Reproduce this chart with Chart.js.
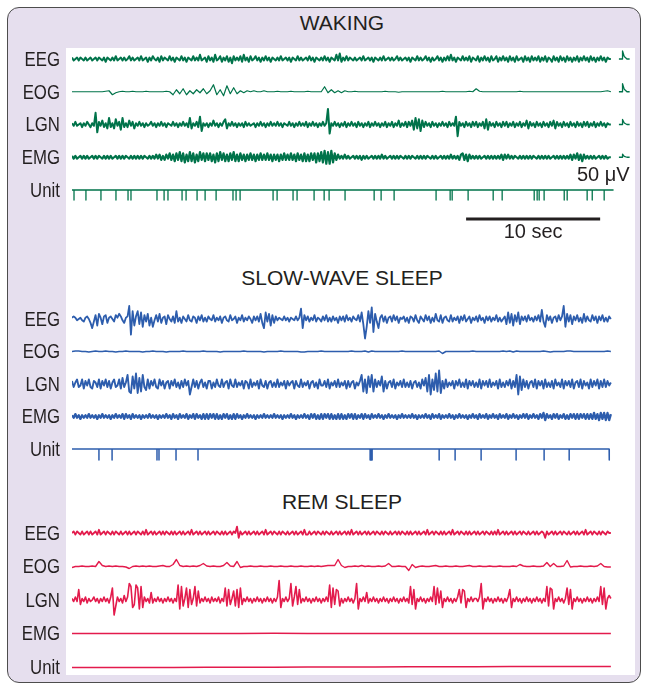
<!DOCTYPE html>
<html lang="en">
<head>
<meta charset="UTF-8">
<title>Waking, slow-wave sleep and REM sleep recordings</title>
<style>
    body {
        margin: 0;
        width: 645px;
        height: 686px;
        position: relative;
        overflow: hidden;
        background: #ffffff;
        font-family: 'Liberation Sans', Arial, sans-serif;
        color: #231f20;
    }
    .frame {
        position: absolute;
        left: 7px;
        top: 7px;
        width: 634px;
        height: 676px;
        box-sizing: border-box;
        border: 1.5px solid #4d4d4d;
        border-radius: 12px;
        background: #e6dfee;
    }
    .sheet {
        position: absolute;
        left: 66px;
        top: 48px;
        width: 569px;
        height: 627px;
        background: #ffffff;
    }
    .stage {
        position: absolute;
        left: 0;
        width: 684px;
        text-align: center;
        font-size: 21px;
        line-height: 24px;
    }
    .panel {
        position: absolute;
        left: 0;
        width: 645px;
    }
</style>
<script src="https://cdn.jsdelivr.net/npm/chart.js"></script>
</head>
<body>
<div class="frame"></div>
<div class="sheet"></div>
<div class="stage" style="top: 11px;">WAKING</div>
<div class="stage" style="top: 266px;">SLOW-WAVE SLEEP</div>
<div class="stage" style="top: 490px;">REM SLEEP</div>
<div class="panel" style="top: 40px; height: 205px;"><canvas id="wakeChart"></canvas></div>
<div class="panel" style="top: 295px; height: 180px;"><canvas id="swsChart"></canvas></div>
<div class="panel" style="top: 512px; height: 162px;"><canvas id="remChart"></canvas></div>

<script>
// channel names (row labels)
const channels = ['EEG', 'EOG', 'LGN', 'EMG', 'Unit'];

// every trace runs over 0..40.2 s; values in relative units
const traceEnd = 40.2;

// ---- WAKING ----
const wakeEEG = [
    1,-1,0,1,-1,1,0,-1,1,-1, 0,1,-1,0,1,-1,1,0,-1,1, -2,1,0,-1,1,-1,2,-1,0,1, -1,1,-1,0,2,-1,1,-1,0,1,
    -1,2,-1,0,1,-2,1,-1,2,0, -1,1,-2,2,-1,1,0,-1,2,-1, 1,-2,1,0,-1,2,-1,1,-2,1, 0,-1,2,-1,1,-1,3,-1,0,1,
    -2,2,-1,1,-2,3,-1,0,2,-2, 1,-1,2,-2,1,-3,2,-1,1,-1, 2,-2,3,-1,1,-2,2,-1,0,2, -1,1,-2,1,-1,2,-1,1,-2,1,
    0,-1,1,-1,2,-1,0,1,-1,1, -2,1,0,-1,2,-1,1,-1,0,1, -1,2,-1,1,-2,1,0,-1,1,-1, 2,-1,1,-2,1,0,-1,3,-1,4,
    -2,1,-1,2,-1,1,0,-1,1,-1, 0,1,-1,2,-1,0,1,-1,1,-2, 1,0,-1,1,-1,2,-1,0,1,-1, 1,-1,0,2,-1,1,-1,0,1,-1,
    1,-2,1,0,-1,2,-1,1,-1,0, 2,-1,1,-2,1,-1,0,2,-1,1, -2,1,-1,2,-1,3,-1,1,-2,1, 0,-1,2,-1,1,-1,2,-2,1,0,
    -1,2,-2,1,-1,2,-1,1,-2,2, -1,0,2,-2,1,-1,2,-1,1,-2, 2,-1,1,-2,2,-1,0,1,-2,2, -1,1,-2,2,-1,1,-1,2,-2,1,
    -1,2,-2,1,0,-2,2,-1,1,-2, 2,-1,1,-2,2,-1,1,-2,1,-1, 2,-2,1,-1,2,-1,1,-2,2,-1, 1,-2,1,-1,2,-1,1,-2,1,0,
    0
];
const wakeEOG = [
    0,0,0,0,0,0,0,0,0,0,0.5,1,-3,-1,0,0.5,0,0,0.5,0,
    0,0,0.5,0,0,0,0,0,0.5,0,-3,2,-2,3,-3,1,-2,2,-1,3,
    -2,1,7,-3,2,-4,6,-2,4,-2,1,-1,1,0,1,0,0,1,0,0,
    0,0.5,0,0,0,0.5,0,0,0,0,0.5,0,0,0,0,5,-1,2,-1,1,
    -1,1,0,0,0.5,0,0,0,0,0,0,0,0,0.5,0,0,0,-0.5,0,0,
    0,0,0,0,0,0,0,0,0,0,0.5,0,0,0,0,0,0,0,0.5,0,
    3,0.5,0,0,0,0,0,0,0,0,0,0,0,0.5,0,0,0,0,0,0,
    0,0,0,0,0,0,0,0,0,0,0,0,0,0,0,0,0,0,0.5,1,
    0
];
const wakeLGN = [
    1,-1,2,-1,0,1,-2,1,-1,2, 0,-2,1,-1,9,-6,2,-1,3,-2, 1,-3,5,-2,1,-3,4,-1,2,-4, 5,-2,1,-2,3,-1,2,-3,1,-1,
    2,-1,1,-2,1,-1,0,2,-1,1, -2,1,-1,2,-1,1,-2,1,0,-1, 2,-1,1,-2,1,-1,2,-1,1,-2, 5,-3,1,-1,2,-2,6,-5,1,-1,
    1,-2,1,-1,3,-1,1,-2,1,-1, 2,4,-3,1,-1,2,-1,1,-2,1, -1,1,-2,2,-1,1,-1,0,1,-2, 1,-1,2,-1,1,-2,1,-1,2,-1,
    1,-1,2,-1,1,-2,1,0,-1,2, -1,1,-2,1,-1,2,-1,1,-1,2, -2,1,-1,2,-1,1,-2,1,-1,2, -1,1,12,-7,1,-1,2,-1,1,-2,
    1,-1,2,-2,1,-1,2,-1,1,-2, 2,-1,1,-2,1,-1,2,-2,1,-1, 2,-1,1,-2,1,-1,2,-2,1,-1, 2,-2,1,-1,3,-2,1,-1,2,-2,
    2,-1,3,-4,5,-3,4,-5,3,-2, 2,-1,1,-2,2,-1,1,-2,1,-1, 2,-1,1,-2,2,-1,1,-1,6,-9, 2,-1,1,-2,2,-1,1,-2,2,-1,
    2,-2,1,-1,2,-3,4,-4,2,-1, 1,-2,2,-1,1,-2,2,-1,2,-2, 1,-1,2,-2,1,-1,2,-2,1,-1, 3,-3,2,-1,1,-2,2,-1,1,-2,
    2,-1,1,-2,2,-1,3,-3,2,-1, 1,-2,2,-1,1,-2,2,-1,1,-2, 2,-1,1,-2,2,-1,2,-2,1,-1, 2,-2,1,-1,2,-1,1,-2,1,0,
    0
];
const wakeEMG = [
    1,-1,1,-1,0,1,-1,1,-1,1, -1,0,1,-1,1,-1,1,0,-1,1, -1,1,-1,1,-1,0,1,-1,1,-1, 1,-1,1,0,-1,1,-1,1,-1,1,
    -1,1,-1,1,0,-1,1,-1,1,-1, 2,-1,2,-2,1,-2,2,-1,3,-2, 2,-3,3,-2,4,-3,3,-4,2,-3, 4,-3,3,-4,2,-3,4,-2,3,-3,
    3,-2,3,-3,2,-4,3,-3,4,-2, 3,-3,2,-3,3,-2,4,-3,2,-3, 3,-2,2,-3,2,-2,3,-2,2,-3, 2,-2,3,-2,2,-2,3,-2,2,-3,
    2,-2,2,-3,2,-2,3,-2,2,-2, 3,-2,2,-3,3,-2,2,-3,3,-3, 2,-3,3,-2,3,-4,3,-3,4,-4, 5,-5,4,-5,5,-4,3,-2,2,-1,
    1,-1,2,-1,1,-1,0,1,-1,1, -1,1,-2,1,-1,1,-1,0,1,-1, 1,-1,1,-1,2,-1,1,-1,0,1, -1,1,-1,1,-1,1,0,-1,1,-1,
    1,-1,1,0,-1,1,-1,1,-1,1, -1,1,0,-1,1,-1,1,-1,0,1, -1,1,-1,1,-1,2,-1,1,-1,1, -2,2,3,-2,2,-3,2,-1,1,-1,
    1,-1,1,-1,0,1,-1,1,-1,1, -1,1,-1,1,-1,2,-2,2,-1,2, -1,1,-1,1,0,-1,1,-1,1,-1, 1,-1,1,-1,1,0,-1,1,-1,1,
    -1,1,-1,1,-1,0,1,-1,1,-1, 1,-1,1,-1,1,-1,2,-2,2,-1, 3,-2,2,-3,2,-1,1,-1,1,-1, 1,-1,0,1,-1,1,-1,1,-1,0,
    0
];
const wakeSpikes = [0.15, 1.04, 2.16, 3.28, 4.18, 4.40, 6.34, 6.87, 7.16, 8.21, 8.51, 9.33, 9.93,
    10.75, 12.01, 12.24, 12.54, 15.0, 15.3, 16.49, 16.79, 18.06, 18.81, 19.18, 20.37, 22.54, 23.06,
    24.03, 27.16, 28.21, 28.36, 29.55, 31.42, 32.09, 34.48, 34.70, 34.85, 35.22, 36.72, 36.94,
    38.43, 38.81, 39.70];
const wakeCal = [8, 8, 5, 3];   // calibration pulse heights, EEG..EMG

// ---- SLOW-WAVE SLEEP ----
const swsEEG = [
    1,2,1,-1,0,1,-1,-2,1,2, 0,-3,-7,-2,3,-5,4,1,-4,2, 3,-3,1,2,0,-2,3,1,4,2, -1,-3,1,2,10,-12,6,-5,2,6,
    -4,5,-6,3,-2,4,-5,1,-6,-1, 3,-2,4,-3,1,2,-4,3,0,-2, 2,-3,6,-2,1,-3,2,0,-2,3, -1,-2,2,1,-3,2,-1,3,-2,1,
    -2,2,0,-1,3,-2,1,-1,2,-3, 1,2,-1,-2,3,-1,0,2,-3,1, -1,3,-2,1,-1,2,0,-3,2,-1, 2,-2,4,-3,-7,5,-2,4,-5,3,
    -3,2,-1,1,0,-1,2,-1,1,-2, 1,0,-1,2,-1,1,8,-7,3,-1, 2,-2,1,-1,3,-2,1,0,-2,2, -1,3,-2,1,-2,2,-1,1,-3,2,
    -1,2,-2,3,-1,1,-2,2,0,-1, 3,-2,5,-4,-15,-6,6,-3,9,-10, 4,-2,-7,1,3,-2,2,-3,1,2, -2,3,-1,2,-3,1,0,2,-2,1,
    -3,2,1,-2,3,-1,-3,2,0,-2, 3,-1,2,-3,1,-2,4,-1,-2,3, -3,1,2,-1,-2,3,-2,1,-1,2, -3,2,-1,3,-2,0,2,-3,1,-1,
    2,-2,3,-1,1,-3,2,-1,2,-2, 1,-1,3,-2,1,-2,0,2,-4,5, -3,4,-5,3,-2,5,-4,2,-1,2, -2,3,-1,1,-2,2,-1,3,-2,7,
    -2,-6,3,-1,2,-3,1,2,-2,3, -1,2,10,-6,4,-2,3,-4,2,-1, 3,-2,1,-3,4,-2,2,-1,-2,3, -1,2,-3,2,-1,3,-2,1,-2,2,
    0
];
const swsEOG = [
    0,0.5,0.5,0,0,-0.5,0,0.5,0,0,0.5,0,0,-0.5,0,0,0.5,0,0,0,
    0,-0.5,0,0,0.5,0,0,0,-0.5,0,0,0,0,0.5,0,0,0,0,0,0.5,
    0,0,0,0,-0.5,0,0,0,0,0,0,0.5,0,0,0,0,0,-0.5,0,0,
    0,0,0.5,0,0,0,0,0,-0.5,-0.5,0,0,0,0,0.5,0,0,0,0,0,
    0,0,0,0.5,0,0,0,0.5,-0.5,0.5,0,0,0,0,0,0,0,0,0.5,0,
    0,0,0,0,0,0,0,0,0,0.5,-2,0,0,0,0,0,0,0,0,0.5,
    0,0,0,0,0,0,0,0,0.5,0,0.5,-0.5,0.5,0,0,0,0,0,0,0,
    0.5,0,-0.5,0,0,0,0,0.5,0.5,0,0,0,0,0,0,0,0,0,0,0.5,
    0
];
const swsLGN = [
    2,-2,1,3,-2,-1,3,-3,2,-1, 3,-2,-3,2,1,-2,3,-3,2,-1, 3,-2,2,-3,1,3,-2,-1,3,-3, 4,-2,1,6,-5,-6,5,-3,7,-6,
    4,-5,6,-2,-4,3,-3,2,-1,3, -2,-3,3,-1,2,-3,1,2,-3,2, -1,3,-2,1,-3,2,-2,3,-1,2, -7,-2,3,-2,2,-3,1,3,-2,1,
    -3,2,2,-3,1,-2,3,-1,-2,3, -2,1,2,-3,3,-1,-2,3,-2,1, -1,2,-3,2,1,-3,3,-2,1,-1, 2,-3,3,-1,-2,2,-3,1,2,-2,
    1,-2,3,-2,1,-1,2,-3,2,-1, 1,2,-3,2,-1,-2,3,-2,1,-1, 2,-3,1,2,-2,1,-3,3,-1,-1, 2,-2,3,-3,1,-1,2,-2,3,-2,
    1,-1,2,-3,2,-2,1,2,-3,1, -1,2,6,-5,3,-6,5,-2,6,-5, 3,-2,2,-1,5,-5,2,-3,1,2, -2,3,-3,1,-1,2,-2,3,-2,1,
    -2,2,-3,1,2,-2,1,-3,3,-1, 4,-5,6,-7,3,-4,7,-5,9,-6, 2,-3,3,-2,1,-1,2,-3,2,-1, 3,-2,1,-2,3,-3,2,-1,2,-2,
    1,-2,3,-3,2,-1,2,-2,3,-2, 1,-1,2,-3,3,-2,1,-2,2,-1, 3,-3,2,-2,6,-7,5,-4,3,-2, 2,-3,1,2,-2,3,-3,2,-1,2,
    -3,3,-2,1,-2,2,-3,3,-1,1, -2,3,-3,2,-1,2,-2,3,-3,1, 2,-2,3,-3,2,-1,1,-3,3,-2, 2,-1,3,-3,2,-2,3,-2,2,-1,
    1
];
const swsEMG = [
    1,-1,2,-1,1,-2,1,-1,1,-1, 2,-1,1,-1,1,-2,1,-1,2,-1, 1,-1,1,-2,1,-1,2,-1,1,-1, 2,-2,2,-1,1,-2,2,-1,1,-1,
    1,-2,1,-1,1,-1,2,-1,1,-1, 1,-2,1,-1,1,-1,2,-1,1,-2, 2,-1,1,-2,2,-1,1,-1,2,-2, 1,-1,2,-2,2,-1,1,-2,2,-2,
    2,-2,2,-1,2,-2,2,-2,1,-2, 2,-1,2,-2,1,-2,2,-2,2,-1, 1,-2,1,-1,2,-1,1,-1,1,-2, 1,-1,1,-1,2,-1,1,-1,1,-1,
    2,-1,1,-1,1,-2,1,-1,1,-1, 2,-1,1,-2,1,-1,1,-1,2,-1, 1,-2,2,-1,2,-2,1,-2,2,-2, 2,-1,2,-2,2,-2,1,-2,2,-2,
    2,-2,1,-2,2,-1,2,-2,2,-2, 1,-1,2,-2,2,-1,1,-2,2,-1, 1,-1,2,-1,1,-2,1,-1,2,-1, 1,-1,1,-2,1,-1,2,-1,1,-1,
    1,-1,2,-1,1,-2,1,-1,1,-1, 2,-1,1,-2,2,-1,1,-1,2,-2, 1,-1,1,-1,2,-1,1,-2,1,-1, 2,-1,1,-1,1,-2,1,-1,2,-1,
    1,-2,2,-1,1,-1,2,-2,1,-1, 2,-1,1,-2,2,-1,1,-1,2,-2, 1,-1,2,-1,1,-2,1,-1,2,-1, 2,-2,1,-1,2,-1,1,-2,2,-1,
    3,-3,2,-1,1,-2,2,-1,2,-2, 1,-1,2,-2,1,-2,2,-1,2,-2, 2,-2,2,-1,2,-2,2,-2,2,-2, 3,-2,2,-3,3,-2,3,-3,3,-3,
    2
];
const swsSpikes = [2.01, 2.99, 6.34, 6.49, 7.76, 9.40, 22.24, 22.31, 22.39, 27.39, 28.58,
    30.52, 33.13, 35.22, 37.09, 40.07];

// ---- REM SLEEP ----
const remEEG = [
    0,1,-1,1,0,-1,1,-1,0,1, -1,1,-1,0,1,-1,2,-1,0,1, -1,1,0,-1,1,-1,1,0,-1,1, -1,0,1,-1,1,-1,0,1,-1,1,
    0,-1,1,-1,2,-1,0,1,-1,1, -1,0,1,-1,1,-1,1,0,-1,1, -1,1,-1,0,1,-1,1,-1,0,1, -1,2,-1,0,1,-1,1,-1,0,1,
    -1,1,-1,0,1,-1,1,0,-1,1, -1,1,-1,0,1,-1,1,0,4,-3, 1,-1,0,1,-1,1,-1,0,1,-1, 1,-1,0,1,-1,2,-1,0,1,-1,
    1,0,-1,1,-1,1,0,-1,1,-1, 0,1,-1,1,-1,0,1,-1,2,-1, -1,1,-1,0,1,-1,1,0,-1,1, -1,1,0,-1,1,-1,0,1,-1,1,
    -1,0,1,-1,1,-1,2,-1,0,1, -1,1,-1,0,1,-1,1,-1,0,1, -1,1,0,-1,1,-1,1,0,-1,1, -1,0,1,-1,1,-1,1,0,-1,1,
    -1,1,-1,0,1,-1,1,-1,0,1, -1,2,-1,0,1,-1,1,0,-1,1, -1,1,-1,0,1,-1,2,-1,0,1, -1,1,0,-1,1,-1,1,-1,0,1,
    -1,1,-1,0,1,-1,1,0,-1,1, -1,1,-1,2,-1,0,1,-1,1,-1, 0,1,-1,1,-1,0,1,-1,1,0, -1,1,-1,0,1,-1,1,-1,0,1,
    0,-3,1,-1,0,1,-1,1,-1,0, 1,-1,1,0,-1,1,-1,0,1,-1, 1,-1,0,1,-1,2,-1,0,1,-1, 1,0,-1,1,-1,1,0,-1,1,0,
    0
];
const remEOG = [
    -1,0,0,0.5,0,0,0.5,0,5,1,0,0.5,0,0.5,0,0,-0.5,-2,0,0.5,
    0,0.5,0,0.5,0,0,0.5,1,0,0,2,7,1,0,0.5,0,0.5,0,1,3,
    0.5,0,0.5,0,0,1,4,0.5,0,5,-1,0,0,0.5,0,0,0.5,0,0,0.5,
    0,0,0.5,0,0,0.5,0,0,0.5,0,0,0.5,0,0.5,0,0.5,1,1,1,7,
    1,-1,0,0,0.5,0,1,0,0.5,0,0,0.5,0,0.5,3,0,0,0.5,0,0,
    -4,2,-1,0,0.5,0,0,0.5,1,0,0,0.5,0,0,0.5,0,0,0.5,1,0,
    0,0.5,0,0,0.5,0,0,0.5,0,0,0,0.5,0,2,0.5,0,0,0.5,0,0,
    0.5,4,0,3,0,0,0.5,6,-0.5,0,0,0.5,0,0,0.5,0,0.5,3,0,-0.5,
    -0.5
];
const remLGN = [
    1,-1,2,-1,7,-3,1,-1,2,-2, 1,-1,0,2,-1,1,-2,1,-1,2, -1,1,-2,2,8,-10,-4,2,-1,1, -2,3,-1,2,11,9,-5,-3,10,8,
    -6,9,-5,2,-1,1,-2,5,-2,1, -1,2,-1,1,-2,1,-1,2,-1,1, -2,1,-1,10,-6,9,-4,1,8,-5, 7,-3,1,9,-4,6,-2,1,-1,2,
    -1,1,-2,2,-1,1,-1,2,-2,1, -1,8,-4,7,-3,1,6,-4,7,-5, 8,-3,1,-1,2,-1,1,-2,1,-1, 2,-1,1,-2,1,-1,2,-1,1,-2,
    1,-1,2,13,-5,1,-1,2,-1,1, 11,-4,2,9,-3,7,-2,1,-1,2, -1,1,-2,1,-1,2,-1,1,-2,1, -1,2,-1,10,-5,8,-3,7,6,-4,
    1,-2,1,-1,2,-1,1,-2,1,11, -6,1,-1,2,-1,5,-2,1,-1,2, -1,1,-2,1,-1,2,-1,1,-2,1, -1,2,-1,1,-2,1,-1,2,-1,1,
    -2,9,-3,7,-6,1,-1,2,-1,1, -2,1,-1,2,-1,9,-3,8,-2,6, -5,1,-1,2,-1,1,-2,1,-1,2, 7,-2,7,6,-5,1,-1,2,-1,1,
    1,-1,2,11,-6,1,-1,2,-1,1, -2,1,-1,2,-1,1,-2,1,-1,2, 7,-5,1,-1,2,-1,1,-2,1,-1, 2,-1,1,-2,1,-1,2,-1,1,-2,
    1,-1,9,-4,8,7,-6,1,-1,2, -1,1,-2,1,8,-3,7,-6,1,-1, 2,-1,1,-2,1,-1,2,-1,1,-2, 1,-1,2,-1,9,-3,8,-6,1,3,
    1
];
const remEMG = [0,0,0,0,0,0,0.3,0,0,0,0,0,0,0,0,0,0];
const remUnit = [-0.5,-0.5,-0.5,-0.5,-0.3,-0.3,-0.2,0,0,0,0.3,0.3,0.3,0.5,0.5,0.5,0.5];

// scale bar (10 sec) and calibration label
const scaleBarSec = 10;
const calLabel = '50 \u03bcV';

const ink = '#231f20';

// gain = display sensitivity of the channel (px per unit)
function trace(values, row, gap, color, width, gain) {
    const step = traceEnd / (values.length - 1);
    const g = gain || 1;
    return {
        data: values.map((v, i) => ({ x: i * step, y: v * g - row * gap })),
        borderColor: color,
        borderWidth: width
    };
}

function unitTrace(times, row, gap, depth, end, color, width) {
    const base = -row * gap;
    const pts = [{ x: 0, y: base }];
    times.forEach(t => {
        pts.push({ x: t, y: base }, { x: t, y: base - depth }, { x: t, y: base });
    });
    pts.push({ x: end, y: base });
    return { data: pts, borderColor: color, borderWidth: width };
}

function calPulse(h, row, gap, color) {
    const b = -row * gap;
    return {
        data: [{x: 40.8, y: b}, {x: 41.05, y: b}, {x: 41.07, y: b + h}, {x: 41.2, y: b + h * 0.3},
               {x: 41.4, y: b}, {x: 41.6, y: b}],
        borderColor: color,
        borderWidth: 1.3
    };
}

// row names, drawn narrow like the original lettering
const channelLabels = {
    id: 'channelLabels',
    afterDraw(chart) {
        const { ctx, chartArea, scales: { y } } = chart;
        ctx.save();
        ctx.fillStyle = ink;
        ctx.font = "21px 'Liberation Sans', Arial, sans-serif";
        ctx.textAlign = 'right';
        ctx.textBaseline = 'middle';
        y.ticks.forEach((t, i) => {
            ctx.save();
            ctx.translate(chartArea.left - 12, y.getPixelForValue(t.value) + 1);
            ctx.scale(0.8, 1);
            ctx.fillText(channels[i], 0, 0);
            ctx.restore();
        });
        ctx.restore();
    }
};

// labels under the waking panel
const wakeText = {
    id: 'wakeText',
    afterDatasetsDraw(chart) {
        const { ctx, scales: { x, y } } = chart;
        ctx.save();
        ctx.fillStyle = ink;
        ctx.font = "20px 'Liberation Sans', Arial, sans-serif";
        ctx.textBaseline = 'middle';
        ctx.textAlign = 'right';
        ctx.fillText(calLabel, x.getPixelForValue(41.6), y.getPixelForValue(-116));
        ctx.textAlign = 'center';
        ctx.fillText(scaleBarSec + ' sec', x.getPixelForValue(29.4 + scaleBarSec / 2), y.getPixelForValue(-173));
        ctx.restore();
    }
};

function makeChart(id, datasets, top, bottom, gap, extra) {
    return new Chart(document.getElementById(id), {
        type: 'line',
        data: { datasets: datasets },
        plugins: [channelLabels].concat(extra || []),
        options: {
            animation: false,
            responsive: true,
            maintainAspectRatio: false,
            parsing: false,
            layout: { padding: { left: 0, right: 10, top: 0, bottom: 0 } },
            plugins: { legend: { display: false }, tooltip: { enabled: false } },
            elements: {
                point: { radius: 0 },
                line: { tension: 0, borderJoinStyle: 'round', borderCapStyle: 'butt', fill: false }
            },
            scales: {
                x: { type: 'linear', display: false, min: 0, max: 42 },
                y: {
                    type: 'linear',
                    min: bottom,
                    max: top,
                    afterBuildTicks(s) { s.ticks = channels.map((c, i) => ({ value: -i * gap })); },
                    afterFit(s) { s.width = 72; s.paddingTop = 0; s.paddingBottom = 0; },
                    ticks: { display: false },
                    grid: { display: false, drawTicks: false },
                    border: { display: false }
                }
            }
        }
    });
}

const green = '#00734a';
const blue = '#2d5dad';
const red = '#e31b4c';

const wakeGap = 32.75;
makeChart('wakeChart', [
    trace(wakeEEG, 0, wakeGap, green, 2, 1.4),
    trace(wakeEOG, 1, wakeGap, green, 1.2),
    trace(wakeLGN, 2, wakeGap, green, 2, 1.3),
    trace(wakeEMG, 3, wakeGap, green, 2.2, 1.3),
    unitTrace(wakeSpikes, 4, wakeGap, 10, 40.4, green, 1.3),
    ...wakeCal.map((h, i) => calPulse(h, i, wakeGap, green)),
    { data: [{ x: 29.4, y: -160 }, { x: 29.4 + scaleBarSec, y: -160 }], borderColor: ink, borderWidth: 3 }
], 19, -186, wakeGap, [wakeText]);

const swsGap = 32.5;
makeChart('swsChart', [
    trace(swsEEG, 0, swsGap, blue, 1.8, 1.3),
    trace(swsEOG, 1, swsGap, blue, 1.5),
    trace(swsLGN, 2, swsGap, blue, 1.9, 1.5),
    trace(swsEMG, 3, swsGap, blue, 2.3, 1.2),
    unitTrace(swsSpikes, 4, swsGap, 11, 40.1, blue, 1.5)
], 24, -156, swsGap);

const remGap = 33.5;
makeChart('remChart', [
    trace(remEEG, 0, remGap, red, 1.8, 1.6),
    trace(remEOG, 1, remGap, red, 1.4),
    trace(remLGN, 2, remGap, red, 1.6, 1.5),
    trace(remEMG, 3, remGap, red, 1.6),
    trace(remUnit, 4, remGap, red, 1.6)
], 21, -141, remGap);
</script>
</body>
</html>
